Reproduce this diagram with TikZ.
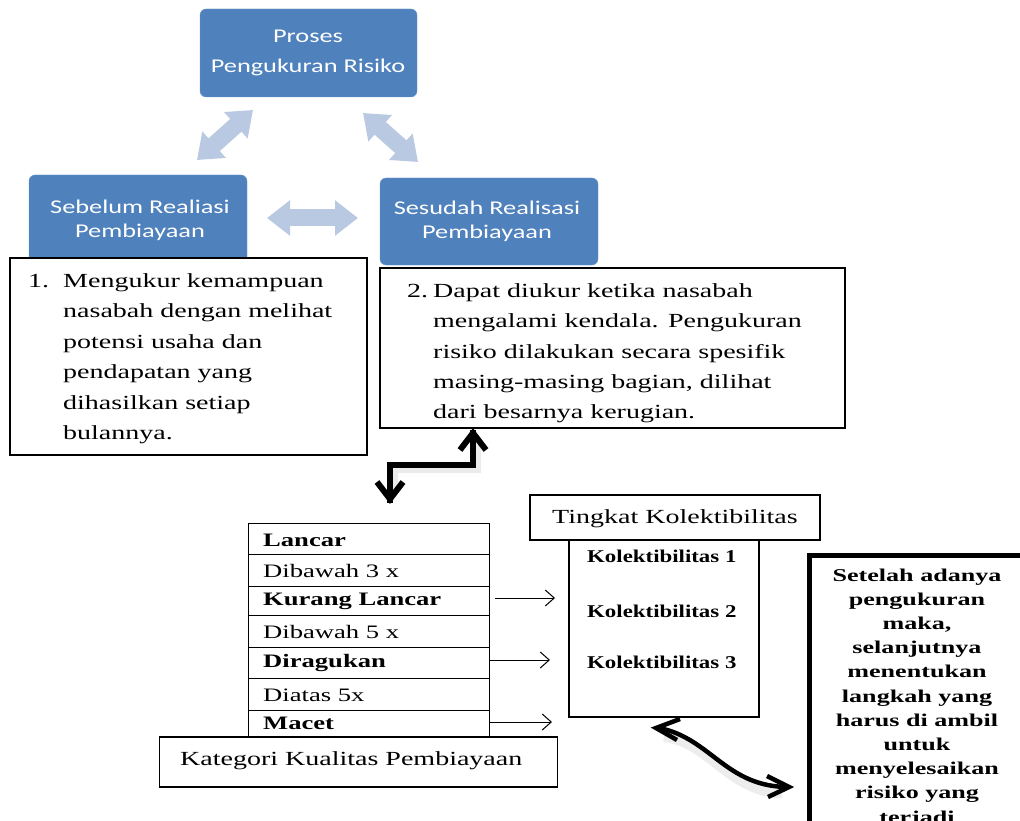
\documentclass[tikz,border=0pt]{standalone}
\usepackage{fontspec}
\usetikzlibrary{arrows.meta}
\newfontfamily\ser[FakeStretch=1.4]{Liberation Serif}
\newfontfamily\serk[FakeStretch=1.27]{Liberation Serif}
\newfontfamily\serw[FakeStretch=1.45]{Liberation Serif}
\newfontfamily\sns[FakeStretch=1.35]{Carlito}
\definecolor{boxblue}{RGB}{79,129,189}
\definecolor{lightarr}{RGB}{185,201,226}
\begin{document}
\begin{tikzpicture}[x=1pt,y=-1pt,
  bluebox/.style={fill=boxblue, draw=boxblue!85!white, rounded corners=6pt, inner sep=0pt},
  sanstext/.style={inner sep=0pt, text=white, font=\sns\fontsize{19.5}{24}\selectfont},
  textbox/.style={draw=black, line width=1.4pt, fill=white, inner sep=0pt},
  rowbox/.style={draw=black, line width=1.1pt, fill=white, inner sep=0pt, minimum width=241pt},
  sertext/.style={inner sep=0pt, anchor=base west},
  lightblock/.style={draw=lightarr, line width=17pt, {Triangle[length=23pt,width=34pt]}-{Triangle[length=23pt,width=34pt]}},
  thickline/.style={draw=black, line width=6pt, line join=miter},
  chevron/.style={draw=black, line width=6pt, line join=miter, line cap=butt},
  curveline/.style={draw=black, line width=4.5pt, line join=miter},
  thinarrow/.style={draw=black, line width=1pt, -{Straight Barb[length=9pt,width=16pt]}}
]
\useasboundingbox (0,0) rectangle (1020,821);
\clip (0,0) rectangle (1020,821);

% blue process boxes
\node[bluebox, minimum width=217pt, minimum height=88pt] (top) at (308.5,53) {};
\node[bluebox, minimum width=218pt, minimum height=90pt] (left) at (138,220) {};
\node[bluebox, minimum width=218pt, minimum height=87pt] (right) at (489,221.5) {};

\node[sanstext, anchor=base] (toptxt) at (308,43) {\begin{tabular}[t]{@{}c@{}}Proses\\[6pt]Pengukuran Risiko\end{tabular}};
\node[sanstext, anchor=base] (lefttxt) at (140,213.5) {\begin{tabular}[t]{@{}c@{}}Sebelum Realiasi\\Pembiayaan\end{tabular}};
\node[sanstext, anchor=base] (righttxt) at (487,214.5) {\begin{tabular}[t]{@{}c@{}}Sesudah Realisasi\\Pembiayaan\end{tabular}};

% light block arrows
\coordinate (la1) at (197,160);
\coordinate (la2) at (253,110);
\coordinate (ra1) at (363,113);
\coordinate (ra2) at (418,162);
\coordinate (ha1) at (267,218);
\coordinate (ha2) at (358,218);
\draw[lightblock] (la1) -- (la2);
\draw[lightblock] (ra1) -- (ra2);
\draw[lightblock] (ha1) -- (ha2);

% text box 1
\node[textbox, minimum width=357pt, minimum height=197pt] (b1) at (188.5,356.5) {};
\node[sertext] (b1t) at (28,287) {\ser\fontsize{20}{30.6}\selectfont\begin{tabular}[t]{@{}l@{}l@{}}\makebox[35pt][l]{1.}&Mengukur kemampuan\\
 &nasabah dengan melihat\\
 &potensi usaha dan\\
 &pendapatan yang\\
 &dihasilkan setiap\\
 &bulannya.\end{tabular}};

% text box 2
\node[textbox, minimum width=465pt, minimum height=160pt] (b2) at (612.5,348) {};
\begin{scope}
\clip (381,269) rectangle (844,426);
\node[sertext] (b2t) at (407,297.5) {\ser\fontsize{20}{30.3}\selectfont\begin{tabular}[t]{@{}l@{}l@{}}\makebox[26pt][l]{2.}&Dapat diukur ketika nasabah\\
 &mengalami kendala. Pengukuran\\
 &risiko dilakukan secara spesifik\\
 &masing-masing bagian, dilihat\\
 &dari besarnya kerugian.\end{tabular}};
\end{scope}

% elbow double arrow
\coordinate (eA) at (473,433);
\coordinate (eB) at (390,499);
\draw[black, opacity=0.08, line width=9pt, line join=miter] (476,442) -- (476,468) -- (393,468) -- (393,490);
\draw[thickline] ([yshift=3pt]eA) -- (473,465) -- (390,465) -- ([yshift=-4pt]eB);
\draw[chevron] (460,450) -- (eA) -- (486,450);
\draw[chevron] (377,482) -- (eB) -- (403,482);

% table of categories
\node[rowbox, minimum height=31pt, anchor=north west] (r1) at (248,523) {};
\node[rowbox, minimum height=32pt, anchor=north west] (r2) at (248,554) {};
\node[rowbox, minimum height=29pt, anchor=north west] (r3) at (248,586) {};
\node[rowbox, minimum height=32pt, anchor=north west] (r4) at (248,615) {};
\node[rowbox, minimum height=31pt, anchor=north west] (r5) at (248,647) {};
\node[rowbox, minimum height=32pt, anchor=north west] (r6) at (248,678) {};
\node[rowbox, minimum height=30pt, anchor=north west] (r7) at (248,710) {};
\node[sertext] (t1) at (263,546) {\ser\bfseries\fontsize{19}{23}\selectfont Lancar};
\node[sertext] (t2) at (263,577) {\ser\fontsize{19}{23}\selectfont Dibawah 3 x};
\node[sertext] (t3) at (263,605) {\ser\bfseries\fontsize{19}{23}\selectfont Kurang Lancar};
\node[sertext] (t4) at (263,638) {\ser\fontsize{19}{23}\selectfont Dibawah 5 x};
\node[sertext] (t5) at (263,667) {\ser\bfseries\fontsize{19}{23}\selectfont Diragukan};
\node[sertext] (t6) at (263,701) {\ser\fontsize{19}{23}\selectfont Diatas 5x};
\node[sertext] (t7) at (263,729) {\ser\bfseries\fontsize{19}{23}\selectfont Macet};

\node[textbox, line width=1.2pt, minimum width=398pt, minimum height=50pt] (kat) at (358.5,762) {};
\node[sertext] (katt) at (180,765) {\ser\fontsize{20}{24}\selectfont Kategori Kualitas Pembiayaan};

% kolektibilitas
\node[textbox, line width=1.2pt, minimum width=190pt, minimum height=177pt] (kol) at (664,628.5) {};
\node[textbox, line width=1.2pt, minimum width=290pt, minimum height=45pt] (ting) at (675,517.5) {};
\node[inner sep=0pt, anchor=base] (tingt) at (675,523) {\ser\fontsize{20}{24}\selectfont Tingkat Kolektibilitas};
\node[sertext] (k1) at (587,562) {\serk\bfseries\fontsize{18}{20}\selectfont Kolektibilitas 1};
\node[sertext] (k2) at (587,617) {\serk\bfseries\fontsize{18}{20}\selectfont Kolektibilitas 2};
\node[sertext] (k3) at (587,668) {\serk\bfseries\fontsize{18}{20}\selectfont Kolektibilitas 3};

% thin arrows
\coordinate (a1s) at (495,598);
\coordinate (a1e) at (555,598);
\coordinate (a2s) at (489,660);
\coordinate (a2e) at (550,660);
\coordinate (a3s) at (489,722);
\coordinate (a3e) at (552,722);
\draw[thinarrow] (a1s) -- (a1e);
\draw[thinarrow] (a2s) -- (a2e);
\draw[thinarrow] (a3s) -- (a3e);

% right thick box
\node[draw=black, line width=5pt, fill=white, minimum width=250pt, minimum height=300pt, anchor=north west, inner sep=0pt] (rb) at (807,553) {};
\node[inner sep=0pt, anchor=base] (rbt) at (917,581) {\serw\bfseries\fontsize{18}{24.2}\selectfont\begin{tabular}[t]{@{}c@{}}Setelah adanya\\
pengukuran\\
maka,\\
selanjutnya\\
menentukan\\
langkah yang\\
harus di ambil\\
untuk\\
menyelesaikan\\
risiko yang\\
terjadi\end{tabular}};

% curved double arrow with soft shadow
\coordinate (cA) at (656,728);
\coordinate (cB) at (789,787);
\draw[black, opacity=0.07, line width=9pt] (664,737) .. controls (712,745) and (727,791) .. (782,794);
\draw[curveline] ([xshift=3pt]cA) .. controls (710,738) and (725,785) .. ([xshift=-4pt]cB);
\draw[curveline] (680,719) -- (cA) -- (677,740);
\draw[curveline] (767,776) -- (cB) -- (768,797);
\end{tikzpicture}
\end{document}
